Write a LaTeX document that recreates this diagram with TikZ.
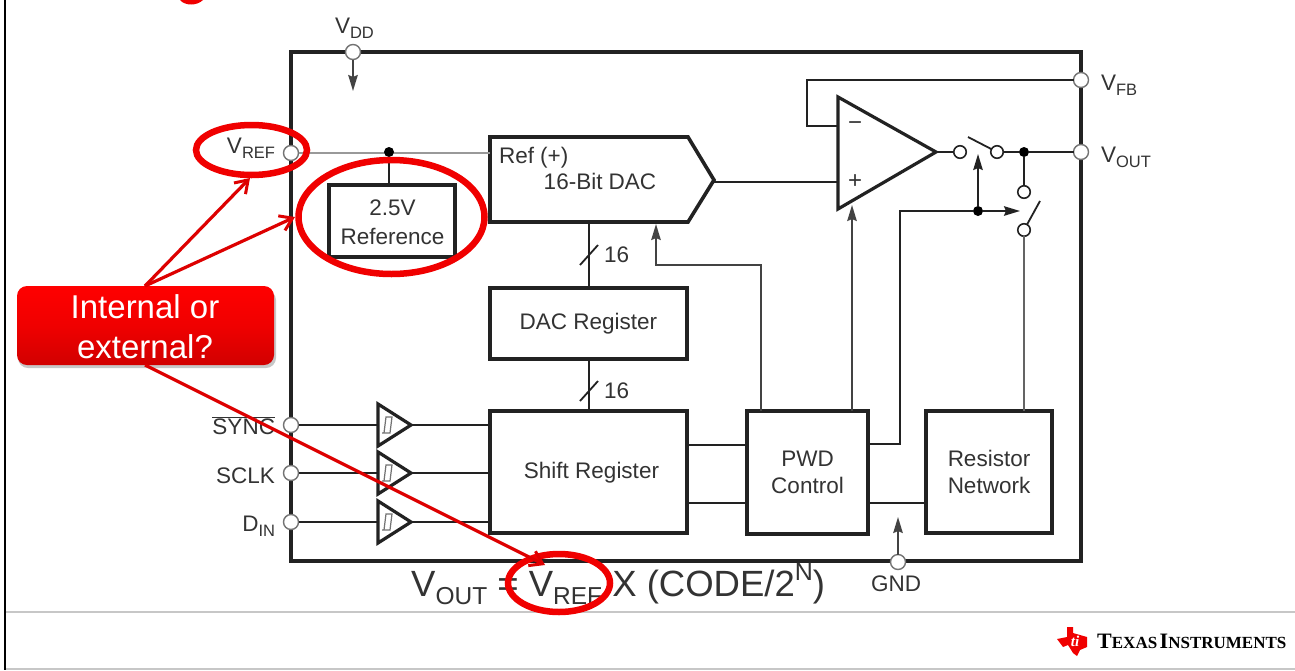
\documentclass[tikz,border=0pt]{standalone}
\usepackage{fontspec}
\setmainfont{Liberation Sans}
\newfontfamily\serifti{Liberation Serif}
\usetikzlibrary{arrows.meta,calc}
\definecolor{ink}{HTML}{222222}
\definecolor{txt}{HTML}{333333}
\definecolor{redmark}{HTML}{F00000}
\newcommand{\lowt}[2]{\raisebox{-0.24em}{\fontsize{#1}{#1}\selectfont #2}}
\newcommand{\bigsc}[2]{{\fontsize{22}{22}\selectfont #1}{\fontsize{17}{17}\selectfont #2}}
\tikzset{
  frameline/.style={draw=black,line width=2.5pt},
  rule/.style={draw=black!22,line width=1.2pt},
  chip/.style={draw=ink,line width=4.4pt,line join=miter},
  blk/.style={draw=ink,line width=3.6pt,fill=white,inner sep=0pt,outer sep=0pt,align=center,font=\fontsize{22.5}{27}\selectfont,text=txt},
  lbl/.style={inner sep=0pt,outer sep=0pt,text=txt,font=\fontsize{22.5}{27}\selectfont,align=center},
  wire/.style={draw=ink,line width=1.8pt},
  feed/.style={draw=ink!70,line width=1.8pt},
  ctl/.style={wire,-{Stealth[length=16pt,width=9.5pt,inset=2pt]}},
  amp/.style={draw=ink,line width=3.2pt,line join=miter,fill=white},
  pin/.style={circle,draw=black!55,line width=1.4pt,fill=white,minimum size=15pt,inner sep=0pt,outer sep=0pt},
  spin/.style={circle,draw=ink,line width=1.6pt,fill=white,minimum size=12.5pt,inner sep=0pt,outer sep=0pt},
  dot/.style={circle,fill=black,minimum size=10pt,inner sep=0pt,outer sep=0pt},
  ring/.style={draw=redmark,line width=6.5pt},
  pointer/.style={draw=redmark!92!black,line width=3.2pt,-{Straight Barb[length=12pt,width=16pt,line width=3pt]}},
}
\begin{document}
\begin{tikzpicture}[x=1pt,y=-1pt]
\useasboundingbox (0,0) rectangle (1295,670);
\fill[white] (0,0) rectangle (1295,670);
% slide frame
\coordinate (ftop) at (5,0); \coordinate (fbot) at (5,670);
\draw[frameline] (ftop) -- (fbot);
\coordinate (sepL) at (6,612); \coordinate (sepR) at (1295,612);
\draw[rule] (sepL) -- (sepR);
\coordinate (botL) at (6,669); \coordinate (botR) at (1295,669);
\draw[rule] (botL) -- (botR);
\fill[redmark] (180,0) .. controls (185,6) and (197,6) .. (203,0) -- cycle;
% chip outline
\draw[chip] (291,52) rectangle (1081,561);
% pins
\node[pin] (vdd) at (353,52) {};
\node[pin] (vref) at (291,153) {};
\node[pin] (vfb) at (1081,80) {};
\node[pin] (vout) at (1081,152) {};
\node[pin] (sync) at (291,425) {};
\node[pin] (sclk) at (291,473) {};
\node[pin] (din) at (291,522) {};
\node[pin] (gnd) at (898,562) {};
% pin labels
\node[lbl,anchor=base west] (lvdd) at (335,33) {V\lowt{16.5}{DD}};
\node[lbl,anchor=base east] (lvref) at (275,153) {V\lowt{16.5}{REF}};
\node[lbl,anchor=base west] (lvfb) at (1101,90) {V\lowt{16.5}{FB}};
\node[lbl,anchor=base west] (lvout) at (1101,162) {V\lowt{16.5}{OUT}};
\node[lbl,anchor=base east] (lsync) at (275,434) {$\overline{\mbox{SYNC}}$};
\node[lbl,anchor=base east] (lsclk) at (275,483) {SCLK};
\node[lbl,anchor=base east] (ldin) at (275,531) {D\lowt{16.5}{IN}};
\node[lbl,anchor=base] (lgnd) at (896,591) {GND};
% blocks
\node[blk,minimum width=126pt,minimum height=72pt] (ref) at (392,221) {};
\node[lbl,font=\fontsize{22.5}{29}\selectfont] (reftext) at (392.5,222) {2.5V\\Reference};
\node[blk,minimum width=197pt,minimum height=71pt] (dacreg) at (588.5,323.5) {DAC Register};
\node[blk,minimum width=197pt,minimum height=122pt] (shift) at (588.5,472) {};
\node[lbl] (shifttext) at (591.5,473) {Shift Register};
\node[blk,minimum width=121pt,minimum height=123pt] (pwd) at (807.5,472.5) {PWD\\Control};
\node[blk,minimum width=126pt,minimum height=122pt] (res) at (989,472) {Resistor\\Network};
% DAC
\coordinate (dacA) at (490,137); \coordinate (dacB) at (688,137); \coordinate (dacTip) at (714,180);
\coordinate (dacC) at (688,222); \coordinate (dacD) at (490,222);
\draw[blk] (dacA) -- (dacB) -- (dacTip) -- (dacC) -- (dacD) -- cycle;
\node[lbl,anchor=base west] (dacref) at (499,163) {Ref (+)};
\node[lbl,anchor=base] (dacname) at (600,189) {16-Bit DAC};
% op amp
\coordinate (ampA) at (838,97); \coordinate (ampTip) at (936,152); \coordinate (ampB) at (838,209);
\coordinate (ampM) at (838,126); \coordinate (ampP) at (838,182);
\draw[amp] (ampA) -- (ampTip) -- (ampB) -- cycle;
\node[lbl,font=\fontsize{24}{24}\selectfont] (minus) at (855,126) {−};
\node[lbl,font=\fontsize{24}{24}\selectfont] (plus) at (855,182) {+};
% reference wiring
\draw[draw=black!40,line width=1.4pt] (vref) -- (490,153);
\node[dot] (refdot) at (389,152) {};
\draw[wire] (refdot) -- (ref.north -| refdot);
% signal path
\draw[wire] (714,182) -- (ampP);
\draw[wire] (vfb) -- (807,80) -- (807,126) -- (ampM);
\node[spin] (sw1a) at (960,152) {};
\node[spin] (sw1b) at (997,152) {};
\node[dot] (outdot) at (1024,152) {};
\node[spin] (sw2a) at (1024,192) {};
\node[spin] (sw2b) at (1024,230) {};
\draw[wire] (ampTip) -- (sw1a);
\draw[wire] (sw1b) -- (outdot) -- (vout);
\draw[wire] (outdot) -- (sw2a);
\coordinate (arm1) at (968,137); \coordinate (arm2) at (1040,201);
\draw[wire] (arm1) -- (sw1b);
\draw[wire] (arm2) -- (sw2b);
\draw[feed] (sw2b) -- (sw2b |- res.north);
% control lines
\node[dot] (ctldot) at (978,211) {};
\coordinate (ctlup) at (978,154); \coordinate (ctlright) at (1020,211);
\coordinate (pwdout) at (868,444);
\draw[wire] (pwdout) -- (900,444) -- (900,211) -- (ctldot);
\draw[ctl] (ctldot) -- (ctlup);
\draw[ctl] (ctldot) -- (ctlright);
\coordinate (pwdA) at (852,411); \coordinate (ampIn) at (852,205);
\draw[ctl,draw=ink!85] (pwdA) -- (ampIn);
\coordinate (pwdB) at (761,411); \coordinate (dacIn) at (656,224);
\draw[ctl,draw=ink!85] (pwdB) -- (761,265) -- (656,265) -- (dacIn);
% buses
\coordinate (busA) at (589,222); \coordinate (busB) at (589,359);
\draw[wire] (busA) -- (dacreg.north -| busA);
\draw[wire] (busB) -- (shift.north -| busB);
\draw[wire] (580,265) -- (598,245);
\draw[wire] (580,401) -- (598,381);
\node[lbl,anchor=west] (n16a) at (604,255) {16};
\node[lbl,anchor=west] (n16b) at (604,391) {16};
% shift to PWD to resistor
\coordinate (y1) at (0,445); \coordinate (y2) at (0,503);
\draw[wire] (shift.east |- y1) -- (pwd.west |- y1);
\draw[wire] (shift.east |- y2) -- (pwd.west |- y2);
\draw[wire] (pwd.east |- y2) -- (res.west |- y2);
% power arrows
\coordinate (vddIn) at (353,91); \coordinate (gndIn) at (898,517);
\draw[ctl,draw=ink!85] (vdd) -- (vddIn);
\draw[ctl,draw=ink!85] (gnd) -- (gndIn);
% Schmitt input buffers
\foreach \n/\p/\y in {ba/sync/425,bb/sclk/473,bc/din/522}{
  \coordinate (\n T) at (378,\y-21);
  \coordinate (\n B) at (378,\y+21);
  \coordinate (\n O) at (411,\y);
  \coordinate (\n I) at (378,\y);
  \draw[wire] (\p) -- (\n I);
  \draw[wire] (\n O) -- (490,\y);
  \draw[amp] (\n T) -- (\n O) -- (\n B) -- cycle;
  \draw[draw=black!55,line width=1.2pt] (382,\y+8) -- (390,\y+8) -- (392,\y-8) -- (386,\y-8) -- (384,\y+8);
}
% formula
\node[anchor=base west,inner sep=0pt,text=txt,font=\fontsize{36.5}{36.5}\selectfont] (formula) at (411,596)
  {V\lowt{24.5}{OUT} = V\lowt{24.5}{REF} X (CODE/2\raisebox{0.42em}{\fontsize{25}{25}\selectfont N})};
% Texas Instruments logo
\fill[redmark] (1067,627) -- (1073,627) -- (1073,633) -- (1087,637) -- (1087,647) -- (1080,650) -- (1077,656) -- (1073,653) -- (1068,645) -- (1063,647) -- (1057,639) -- (1067,637) -- cycle;
\node[inner sep=0pt,text=white,font=\serifti\itshape\bfseries\fontsize{15}{15}\selectfont] (tilogo) at (1075,641) {ti};
\node[anchor=base west,inner sep=0pt,text=black,font=\serifti\bfseries] (tiname) at (1097,648)
  {\bigsc{T}{EXAS} \bigsc{I}{NSTRUMENTS}};
% red rings
\draw[ring] (251.5,150) ellipse [x radius=55.5,y radius=25];
\draw[ring] (391.5,217) ellipse [x radius=93,y radius=57];
\draw[ring] (559,583) ellipse [x radius=51,y radius=29];
% callout
\fill[black,opacity=.22,rounded corners=10pt] (18,290) rectangle (276,368);
\shade[rounded corners=10pt,top color=red,bottom color=red!82!black,middle color=red!94!black] (17,286) rectangle (274,365);
\node[inner sep=0pt,text=white,align=center,font=\fontsize{33}{40}\selectfont] (callout) at (145,327) {Internal or\\external?};
\coordinate (coT) at (145,286); \coordinate (coB) at (145,365);
\coordinate (tipA) at (250,178); \coordinate (tipB) at (295,217); \coordinate (tipC) at (545,565);
\draw[pointer] (coT) -- (tipA);
\draw[pointer] (coT) -- (tipB);
\draw[pointer] (coB) -- (tipC);
\end{tikzpicture}
\end{document}
